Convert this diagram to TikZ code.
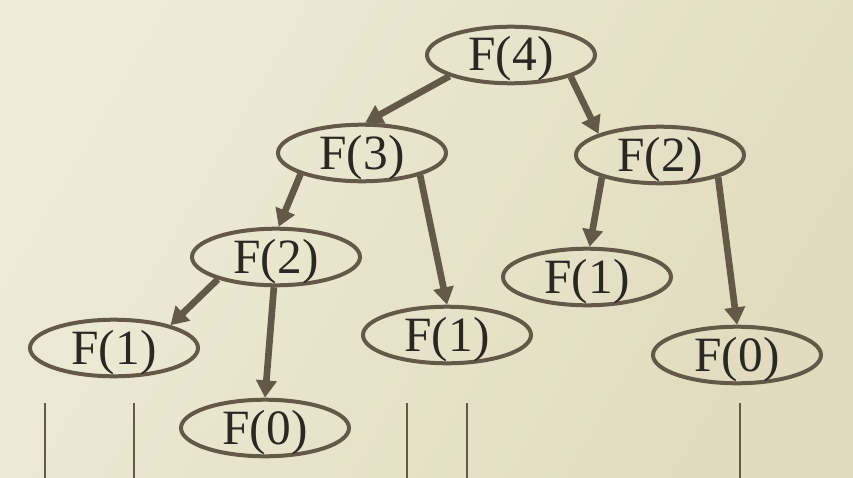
\documentclass[tikz,border=0pt]{standalone}
\usepackage{fontspec}
\setmainfont{Liberation Serif}
\usetikzlibrary{shapes.geometric, arrows.meta}

\definecolor{linebrown}{HTML}{625A46}
\definecolor{textbrown}{HTML}{2B2822}
\definecolor{bgleft}{HTML}{EEEBD6}
\definecolor{bgright}{HTML}{E1DCBF}

\begin{document}
\begin{tikzpicture}[x=0.75pt, y=-0.75pt,
    call/.style={ellipse, draw=linebrown, line width=3pt, inner sep=0pt,
        minimum width=126pt, minimum height=42pt, text height=27pt, text depth=3pt,
        text=textbrown, font=\fontsize{37}{40}\selectfont},
    recur/.style={draw=linebrown, line width=5pt, -{Triangle[length=13pt, width=15pt]}}]
    \shade[left color=bgleft, right color=bgright, shading angle=60] (0,0) rectangle (853,478);
    \useasboundingbox (0,0) rectangle (853,478);

    \node (f4) [call] at (511,55) {F(4)};
    \node (f3) [call] at (362,153) {F(3)};
    \node (f2r) [call] at (660,155) {F(2)};
    \node (f2l) [call] at (276,257) {F(2)};
    \node (f1m) [call] at (447,335) {F(1)};
    \node (f1r) [call] at (587,277) {F(1)};
    \node (f1l) [call] at (114,348) {F(1)};
    \node (f0l) [call] at (265,428) {F(0)};
    \node (f0r) [call] at (737,355) {F(0)};

    \draw[recur] (f4.199) -- (f3.84);
    \draw[recur] (f4.340) -- (f2r.161);
    \draw[recur] (f3.199) -- (f2l.85);
    \draw[recur] (f3.339) -- (f1m.90);
    \draw[recur] (f2l.201) -- (f1l.22);
    \draw[recur] (f2l.266) -- (f0l.90);
    \draw[recur] (f2r.201) -- (f1r.85);
    \draw[recur] (f2r.339) -- (f0r.90);

    % stack levels
    \foreach \x in {45,134,407,467,740}
        \draw[linebrown, line width=1.2pt] (\x,403) -- (\x,478);
\end{tikzpicture}
\end{document}
